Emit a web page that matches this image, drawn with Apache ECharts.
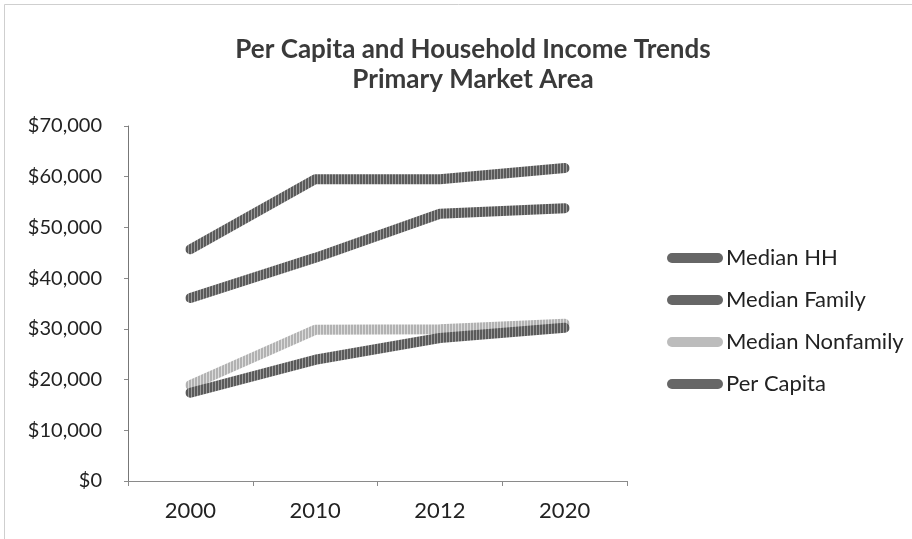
<!DOCTYPE html>
<html>
<head>
<meta charset="utf-8">
<script src="https://cdn.jsdelivr.net/npm/echarts@6/dist/echarts.min.js"></script>
<style>
html,body{margin:0;padding:0;background:#fff;}
#chart{width:912px;height:539px;}
</style>
</head>
<body>
<div id="chart"></div>
<script>
// Income trends for the primary market area
const years = ['2000', '2010', '2012', '2020'];
const medianHH = [45700, 59500, 59500, 61700];
const medianFamily = [36100, 44000, 52700, 53800];
const medianNonfamily = [18900, 29800, 29900, 31000];
const perCapita = [17400, 23900, 28200, 30200];
const seriesNames = ['Median HH', 'Median Family', 'Median Nonfamily', 'Per Capita'];

// Striped fill used to give the thick lines their printed texture
function stripes(base, light, w) {
  const c = document.createElement('canvas');
  c.width = w; c.height = 4;
  const g = c.getContext('2d');
  g.fillStyle = base; g.fillRect(0, 0, w, 4);
  g.fillStyle = light; g.fillRect(w - 1, 0, 1, 4);
  return { image: c, repeat: 'repeat' };
}
const darkTex = stripes('#5a5a5a', '#9a9a9a', 3);
const lightTex = stripes('#b2b2b2', '#dcdcdc', 3);

const font = 'Lato, "Open Sans", sans-serif';
const pill = 'path://M5,0 L51,0 A5,5 0 0 1 51,10 L5,10 A5,5 0 0 1 5,0 Z';

function lineSeries(name, data, color, z) {
  return {
    name, type: 'line', data, z,
    symbol: 'none',
    lineStyle: { width: 10, color, cap: 'round', join: 'round' },
    itemStyle: { color: color === lightTex ? '#b8b8b8' : '#606060' },
    emphasis: { disabled: true },
    animation: false
  };
}

const chart = echarts.init(document.getElementById('chart'));
chart.setOption({
  backgroundColor: '#fff',
  animation: false,
  title: {
    text: 'Per Capita and Household Income Trends\nPrimary Market Area',
    left: 468, top: 30, textAlign: 'center',
    textStyle: { fontFamily: font, fontWeight: 'bold', fontSize: 26, color: '#3a3a3a', lineHeight: 30 }
  },
  legend: {
    orient: 'vertical', left: 662, top: 242,
    itemWidth: 56, itemHeight: 10, itemGap: 20,
    icon: pill,
    textStyle: { fontFamily: font, fontSize: 22, color: '#222', padding: [0, 0, 0, -2] },
    data: seriesNames.map((n, i) => ({
      name: n,
      itemStyle: { color: i === 2 ? '#bcbcbc' : '#666666' }
    }))
  },
  grid: { left: 128, right: 285, top: 126, bottom: 58 },
  xAxis: {
    type: 'category', data: years, boundaryGap: true,
    axisLine: { lineStyle: { color: '#8a8a8a', width: 1 } },
    axisTick: { show: true, length: 5, lineStyle: { color: '#8a8a8a' } },
    axisLabel: { fontFamily: font, fontSize: 22, color: '#222', margin: 19 }
  },
  yAxis: {
    type: 'value', min: 0, max: 70000, interval: 10000,
    axisLine: { show: true, lineStyle: { color: '#777', width: 1 } },
    axisTick: { show: true, length: 4, lineStyle: { color: '#8a8a8a' } },
    splitLine: { show: false },
    axisLabel: {
      fontFamily: font, fontSize: 20, color: '#222', margin: 26,
      formatter: v => '$' + v.toLocaleString('en-US')
    }
  },
  graphic: [{
    type: 'rect', left: 2, top: 2, z: -1,
    shape: { width: 908, height: 535 },
    style: { fill: 'none', stroke: '#cfcfcf', lineWidth: 1 }
  }],
  series: [
    lineSeries('Median HH', medianHH, darkTex, 4),
    lineSeries('Median Family', medianFamily, darkTex, 3),
    lineSeries('Median Nonfamily', medianNonfamily, lightTex, 2),
    lineSeries('Per Capita', perCapita, darkTex, 5)
  ]
});
</script>
</body>
</html>
